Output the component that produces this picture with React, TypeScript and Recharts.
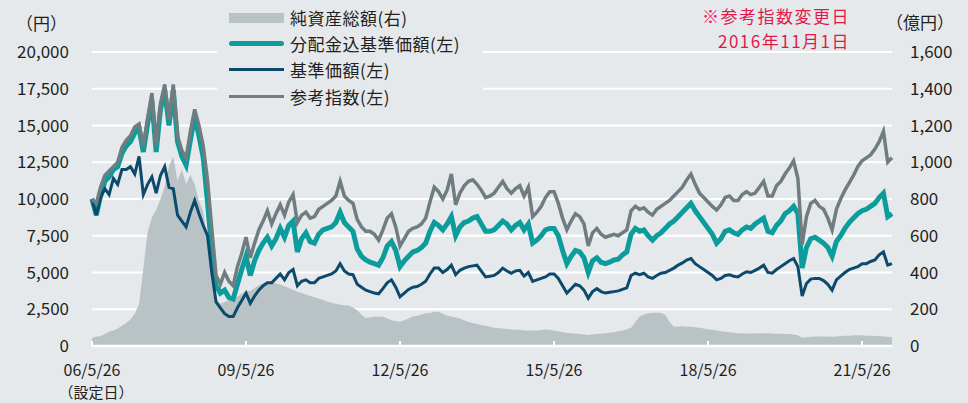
import React from "react";
import {
  ComposedChart,
  Area,
  Line,
  XAxis,
  YAxis,
  CartesianGrid,
} from "recharts";

// monthly, starting 2006/05 (index 0) through 2021/12
const netAssets = [
  45, 50, 55, 65, 78, 85, 95, 110, 125, 145,
  175, 230, 420, 620, 700, 740, 800, 870, 980, 1030,
  900, 960, 880, 930, 880, 790, 730, 560, 350, 250,
  230, 240, 250, 260, 270, 285, 300, 300, 315, 330,
  340, 345, 345, 340, 335, 325, 315, 305, 295, 288,
  280, 272, 265, 258, 250, 242, 235, 230, 225, 222,
  220, 210, 195, 170, 152, 155, 160, 158, 160, 150,
  140, 135, 132, 140, 150, 160, 165, 172, 178, 180,
  186, 187, 175, 165, 160, 155, 150, 140, 130, 125,
  120, 114, 110, 105, 100, 96, 95, 92, 90, 88,
  88, 85, 85, 85, 85, 87, 90, 88, 85, 80,
  75, 72, 70, 68, 65, 62, 60, 62, 65, 68,
  70, 72, 75, 80, 85, 90, 100, 130, 160, 172,
  178, 180, 182, 180, 170, 130, 105, 105, 108, 105,
  105, 102, 100, 95, 90, 88, 85, 80, 78, 75,
  72, 70, 70, 68, 68, 68, 70, 70, 70, 68,
  67, 66, 65, 65, 62, 58, 45, 47, 50, 52,
  52, 52, 52, 50, 52, 55, 56, 56, 58, 58,
  58, 56, 56, 54, 54, 52, 50, 48,
];

const navWithDiv = [
  10000, 8900, 10200, 11200, 11500, 12000, 12200, 13100, 13600, 13900,
  14500, 14800, 13200, 15100, 16700, 13200, 16100, 17400, 15000, 17400,
  13900, 12900, 12300, 14000, 15600, 14300, 12800, 9800, 6500, 4100,
  3600, 3800, 3300, 3200, 4200, 5200, 6100, 4800, 5800, 6500,
  7000, 7400, 6800, 7300, 8000, 7400, 8200, 8500, 6400, 7300,
  7700, 7100, 7000, 7600, 7900, 8000, 8100, 8400, 9100, 8400,
  8100, 7800, 6600, 6100, 5850, 5700, 5600, 5500, 6000, 6800,
  7100, 6500, 5400, 5800, 6100, 6400, 6500, 6700, 7000, 7800,
  8400, 8200, 7900, 8300, 8800, 7500, 8100, 8400, 8500, 8700,
  8800, 8300, 7800, 7800, 7900, 8200, 8500, 8300, 7900, 8200,
  8400, 7900, 8300, 7000, 7200, 7500, 7900, 8000, 8000, 7500,
  6500, 5600, 6100, 6500, 6400, 6000, 5000, 5800, 6000, 5700,
  5600, 5700, 5850, 5900, 6200, 6400, 7600, 8000, 7800, 7900,
  7500, 7200, 7500, 7700, 8000, 8300, 8500, 8800, 9100, 9400,
  9700, 9200, 8800, 8400, 8000, 7600, 7000, 7300, 7800, 7900,
  7700, 7600, 7900, 8100, 8000, 8300, 8500, 8700, 7800, 7700,
  8200, 8500, 9000, 9200, 9500, 9000, 5300, 6700, 7300, 7400,
  7200, 7000, 6700, 6100, 7100, 7500, 8000, 8400, 8700, 9000,
  9200, 9300, 9500, 9700, 10100, 10400, 8800, 9000,
];

const nav = [
  10000, 8900, 10100, 10700, 10300, 11400, 11000, 12000, 12000, 12200,
  11700, 12900, 10300, 11000, 11500, 10400, 11600, 12200, 10800, 10700,
  8900, 8500, 8100, 9100, 9900, 9000, 8200, 7500, 5000, 3000,
  2600, 2200, 2000, 2000, 2600, 3100, 3600, 2900, 3400, 3800,
  4100, 4300, 4300, 4600, 4900, 4500, 5000, 5200, 4100, 4400,
  4500, 4300, 4300, 4600, 4700, 4800, 4900, 5100, 5600, 5100,
  4900, 4850, 4200, 4000, 3800, 3700, 3600, 3550, 3900, 4300,
  4500, 4000, 3350, 3600, 3850, 4000, 4050, 4200, 4400, 4900,
  5300, 5300, 5000, 5200, 5500, 4850, 5150, 5300, 5400, 5450,
  5500, 5100, 4700, 4750, 4800, 5000, 5300, 5100, 4950, 5100,
  5150, 4750, 5000, 4400, 4500, 4600, 4700, 4900, 4900, 4600,
  4100, 3600, 3900, 4200, 4100, 3800, 3250, 3700, 3900, 3700,
  3600, 3650, 3700, 3750, 3850, 3950, 4800, 4950, 4850, 4950,
  4700, 4600, 4800, 4950, 5000, 5150, 5300, 5500, 5650, 5850,
  5950, 5600, 5400, 5200, 5000, 4800, 4500, 4600, 4800, 4850,
  4750, 4700, 4900, 5050, 5000, 5150, 5300, 5500, 5000, 4950,
  5200, 5400, 5600, 5800, 5950, 5400, 3400, 4250, 4550, 4600,
  4600, 4450, 4200, 3800, 4500, 4750, 5000, 5200, 5300, 5400,
  5600, 5600, 5750, 5850, 6200, 6400, 5500, 5600,
];

const refIndex = [
  10000, 9700, 10800, 11600, 11900, 12200, 12500, 13500, 14000, 14300,
  14900, 15100, 13600, 15500, 17200, 13600, 16500, 17800, 15400, 17800,
  14300, 13300, 12800, 14600, 16100, 15000, 13600, 11300, 8000, 4800,
  4200, 5000, 4400, 4100, 5400, 6300, 7400, 6000, 7000, 7900,
  8500, 9200, 8300, 9000, 9600, 8900, 9800, 10300, 8400, 8900,
  9100, 8700, 8800, 9300, 9500, 9700, 9900, 10200, 11200, 10200,
  9900, 9700, 8600, 8100, 7800, 7800, 7600, 7200, 7900, 8700,
  9000, 8100, 6800, 7300, 7800, 8000, 8100, 8300, 8700, 9800,
  10800, 10500, 10000, 10600, 11700, 9600, 10400, 10900, 11200, 11300,
  11000, 10600, 10100, 10200, 10400, 10800, 11200, 10700, 10400, 10700,
  10900, 10200, 10800, 8800, 9100, 9500, 10100, 10500, 10500, 9700,
  8700, 7900, 8500, 9000, 8800, 8300, 6800, 7700, 8000, 7600,
  7400, 7500, 7600, 7500, 7700, 7900, 9200, 9500, 9300, 9400,
  9100, 8900, 9300, 9500, 9700, 9900, 10200, 10500, 10800, 11300,
  11700, 11000, 10400, 10100, 9800, 9500, 9250, 9600, 10100, 10200,
  9900, 9900, 10300, 10500, 10300, 10400, 10800, 11200, 10200, 10200,
  10900, 11200, 11700, 12100, 12600, 11400, 6900, 8800, 9700, 9900,
  9500, 9300, 8700, 7900, 9300, 10000, 10600, 11100, 11600, 12200,
  12600, 12800, 13000, 13400, 13900, 14600, 12500, 12800,
];

const xTickMonths = [0, 36, 72, 108, 144, 180];
const xTickLabels = ["06/5/26", "09/5/26", "12/5/26", "15/5/26", "18/5/26", "21/5/26"];
const leftTicks = [0, 2500, 5000, 7500, 10000, 12500, 15000, 17500, 20000];
const rightTicks = [0, 200, 400, 600, 800, 1000, 1200, 1400, 1600];

const legendItems = [
  { label: "純資産総額(右)", kind: "area", color: "#b9c3c6" },
  { label: "分配金込基準価額(左)", kind: "thick", color: "#0d9c9c" },
  { label: "基準価額(左)", kind: "line", color: "#0b4a6c" },
  { label: "参考指数(左)", kind: "line", color: "#6f7d80" },
];

const data = netAssets.map((a, i) => ({
  m: i,
  assets: a,
  withDiv: navWithDiv[i],
  nav: nav[i],
  ref: refIndex[i],
}));

const BG = "#e6e9ec";
const FONT = '"Noto Sans CJK JP", "Noto Sans", sans-serif';
const TEXT = "#231f20";

const fmt = (v: number) => v.toLocaleString("en-US");

function XTick(props: any) {
  const { x, y, payload } = props;
  const i = xTickMonths.indexOf(payload.value);
  return (
    <g>
      <text x={x} y={y} dy="0.71em" textAnchor="middle" fill={TEXT} fontSize={16} fontFamily={FONT}>
        {xTickLabels[i]}
      </text>
      {i === 0 && (
        <text x={x + 4} y={y + 22.6} dy="0.71em" textAnchor="middle" fill={TEXT} fontSize={15} fontFamily={FONT}>
          （設定日）
        </text>
      )}
    </g>
  );
}

export default function App() {
  return (
    <div
      style={{
        position: "absolute",
        left: 0,
        top: 0,
        width: 968,
        height: 403,
        background: BG,
        fontFamily: FONT,
        color: TEXT,
        overflow: "hidden",
      }}
    >
      <ComposedChart
        width={968}
        height={403}
        data={data}
        margin={{ top: 52, right: 0, bottom: 0, left: 0 }}
      >
        <CartesianGrid yAxisId="left" vertical={false} stroke="#ffffff" strokeWidth={2} />
        <XAxis
          dataKey="m"
          type="number"
          domain={[0, 187]}
          ticks={xTickMonths}
          height={57}
          axisLine={{ stroke: "#ffffff", strokeWidth: 2.5 }}
          tickLine={{ stroke: "#ffffff", strokeWidth: 2 }}
          tickSize={-5}
          tickMargin={24}
          tick={<XTick />}
          interval={0}
        />
        <YAxis
          yAxisId="left"
          domain={[0, 20000]}
          ticks={leftTicks}
          width={92}
          axisLine={false}
          tickLine={false}
          tickMargin={17}
          tickFormatter={fmt}
          tick={{ fill: TEXT, fontSize: 17, fontFamily: FONT }}
        />
        <YAxis
          yAxisId="right"
          orientation="right"
          domain={[0, 1600]}
          ticks={rightTicks}
          width={76}
          axisLine={false}
          tickLine={false}
          tickMargin={12}
          tickFormatter={fmt}
          tick={{ fill: TEXT, fontSize: 17, fontFamily: FONT, textAnchor: "start" }}
        />
        <Area
          yAxisId="right"
          dataKey="assets"
          type="linear"
          stroke="none"
          fill="#b9c3c6"
          fillOpacity={1}
          isAnimationActive={false}
        />
        <Line
          yAxisId="left"
          dataKey="withDiv"
          type="linear"
          stroke="#0d9c9c"
          strokeWidth={5}
          dot={false}
          isAnimationActive={false}
        />
        <Line
          yAxisId="left"
          dataKey="nav"
          type="linear"
          stroke="#0b4a6c"
          strokeWidth={3}
          dot={false}
          isAnimationActive={false}
        />
        <Line
          yAxisId="left"
          dataKey="ref"
          type="linear"
          stroke="#6f7d80"
          strokeWidth={3.5}
          dot={false}
          isAnimationActive={false}
        />
      </ComposedChart>

      {/* legend box hides the grid behind it */}
      <div
        style={{
          position: "absolute",
          left: 217,
          top: 4,
          width: 266,
          height: 108,
          background: BG,
        }}
      >
        {legendItems.map((it, i) => (
          <div
            key={it.label}
            style={{
              position: "absolute",
              left: 0,
              top: 17.7 + i * 26.1 - 4 - 13,
              height: 26,
              display: "flex",
              alignItems: "center",
              whiteSpace: "nowrap",
            }}
          >
            <div
              style={{
                width: 55,
                marginLeft: 12,
                height: it.kind === "area" ? 10 : it.kind === "thick" ? 5 : 3,
                background: it.color,
                borderRadius: it.kind === "thick" ? 3 : 0,
              }}
            />
            <span style={{ marginLeft: 6, fontSize: 17, letterSpacing: 0.5 }}>{it.label}</span>
          </div>
        ))}
      </div>

      <div style={{ position: "absolute", left: 16, top: 10, fontSize: 17 }}>（円）</div>
      <div style={{ position: "absolute", left: 886, top: 9, fontSize: 17 }}>（億円）</div>
      <div
        style={{
          position: "absolute",
          right: 118,
          top: 3,
          fontSize: 17,
          color: "#e0194a",
          textAlign: "right",
          lineHeight: "25px",
          letterSpacing: 1.5,
        }}
      >
        <div>※参考指数変更日</div>
        <div>2016年11月1日</div>
      </div>
    </div>
  );
}
